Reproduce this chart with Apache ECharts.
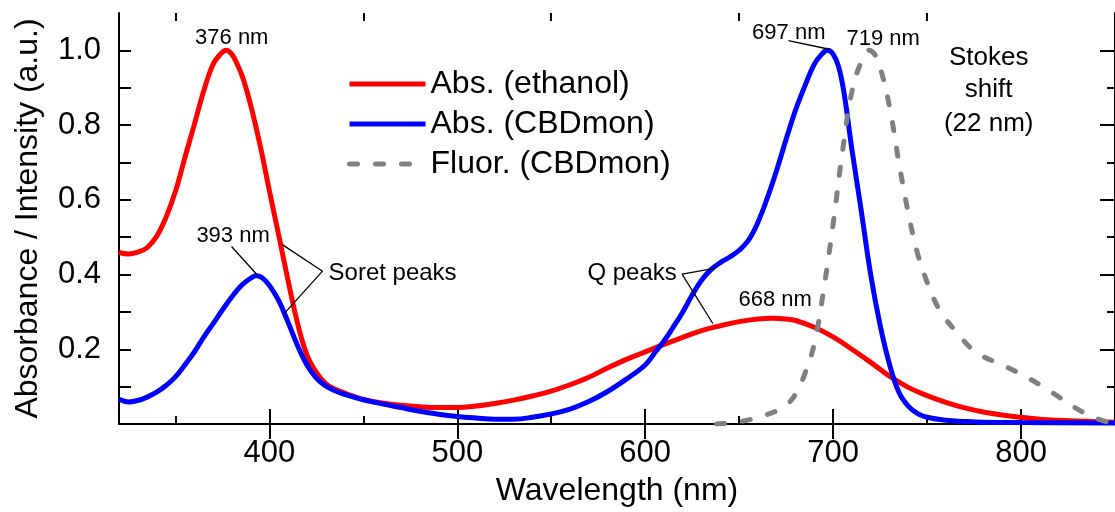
<!DOCTYPE html>
<html>
<head>
<meta charset="utf-8">
<script src="https://cdn.jsdelivr.net/npm/echarts@6/dist/echarts.min.js"></script>
<style>
html,body{margin:0;padding:0;background:#fff;}
#chart{width:1115px;height:512px;}
</style>
</head>
<body>
<div id="chart"></div>
<script>
// ---- data ----
const wlEthanol = [320,325,330,335,340,345,350,355,360,365,370,374,377,380,383,386,390,395,400,405,410,415,420,425,430,435,440,445,450,460,470,480,490,500,510,520,530,540,550,560,570,580,590,600,610,620,630,640,650,660,668,675,680,690,700,710,720,730,740,750,760,770,780,790,800,810,820,830,840,850];
const absEthanol = [0.459,0.455,0.46,0.472,0.502,0.553,0.622,0.712,0.80,0.89,0.962,0.99,1.0,0.99,0.962,0.925,0.855,0.748,0.625,0.505,0.383,0.27,0.185,0.138,0.108,0.093,0.083,0.074,0.066,0.056,0.050,0.046,0.044,0.044,0.048,0.055,0.064,0.075,0.088,0.105,0.125,0.150,0.173,0.193,0.213,0.232,0.250,0.263,0.274,0.281,0.283,0.281,0.277,0.259,0.233,0.20,0.165,0.128,0.098,0.076,0.058,0.043,0.032,0.024,0.018,0.013,0.010,0.008,0.006,0.005];

const wlCBD = [320,325,330,335,340,345,350,355,360,365,370,375,380,385,390,393,396,400,405,410,415,420,425,430,435,440,450,460,470,480,490,500,510,520,530,540,550,560,570,580,590,600,605,610,615,620,625,630,635,640,645,650,655,660,665,670,675,680,685,690,694,697,700,703,706,710,715,720,725,730,735,740,745,750,760,770,780,800,850];
const absCBD = [0.066,0.059,0.063,0.072,0.085,0.103,0.126,0.158,0.192,0.232,0.268,0.305,0.34,0.37,0.39,0.397,0.392,0.371,0.33,0.272,0.21,0.158,0.123,0.102,0.089,0.079,0.065,0.054,0.044,0.034,0.026,0.020,0.016,0.013,0.013,0.018,0.027,0.040,0.060,0.087,0.12,0.158,0.19,0.222,0.26,0.30,0.345,0.385,0.413,0.432,0.447,0.465,0.492,0.54,0.605,0.68,0.762,0.84,0.905,0.963,0.99,1.0,0.99,0.955,0.88,0.735,0.57,0.40,0.265,0.16,0.085,0.048,0.028,0.018,0.010,0.007,0.005,0.004,0.003];

const wlFluor = [638,650,660,670,675,680,685,690,695,700,705,710,715,719,722,725,730,735,740,745,750,755,760,765,770,775,780,790,800,810,820,830,840,850];
const fluorCBD = [0.0,0.006,0.018,0.035,0.05,0.08,0.135,0.215,0.36,0.535,0.73,0.89,0.97,1.0,0.99,0.955,0.85,0.70,0.565,0.455,0.38,0.32,0.28,0.25,0.22,0.196,0.18,0.158,0.133,0.105,0.073,0.04,0.015,0.0];

const seriesNames = ['Abs. (ethanol)', 'Abs. (CBDmon)', 'Fluor. (CBDmon)'];
const xMajorTicks = [400, 500, 600, 700, 800];
const xMinorTicks = [350, 450, 550, 650, 750];
const yLabelTicks = [0.2, 0.4, 0.6, 0.8, 1.0];
const yMinorTicks = [0.1, 0.3, 0.5, 0.7, 0.9];
const yAllTicks = [0.1, 0.2, 0.3, 0.4, 0.5, 0.6, 0.7, 0.8, 0.9, 1.0];

// annotation texts anchored in data coordinates
const annotations = [
  { text: '376 nm', x: 380.0, y: 1.034, size: 22, align: 'center' },
  { text: '393 nm', x: 380.7, y: 0.504, size: 22, align: 'center' },
  { text: 'Soret peaks', x: 431.5, y: 0.403, size: 24, align: 'left' },
  { text: 'Q peaks', x: 616.8, y: 0.403, size: 24, align: 'right' },
  { text: '668 nm', x: 669.2, y: 0.332, size: 22, align: 'center' },
  { text: '697 nm', x: 676.4, y: 1.047, size: 22, align: 'center' },
  { text: '719 nm', x: 726.6, y: 1.031, size: 22, align: 'center' },
  { text: 'Stokes', x: 782.8, y: 0.981, size: 26, align: 'center' },
  { text: 'shift', x: 782.8, y: 0.894, size: 26, align: 'center' },
  { text: '(22 nm)', x: 782.8, y: 0.804, size: 26, align: 'center' }
];
// leader lines: [x1, y1, x2, y2] in data coordinates
const leaders = [
  [379.9, 0.475, 393.7, 0.398],
  [428.3, 0.409, 406.9, 0.48],
  [428.3, 0.409, 408, 0.296],
  [619.6, 0.401, 637.6, 0.417],
  [619.6, 0.401, 636, 0.269],
  [676.2, 1.026, 698, 1.003]
];

const FONT = 'Liberation Sans, Arial, Helvetica, sans-serif';
const zip = (xs, ys) => xs.map((x, i) => [x, ys[i]]);

const chart = echarts.init(document.getElementById('chart'), null, { renderer: 'canvas' });

const xBase = { type: 'value', min: 320, max: 850, splitLine: { show: false } };
const yBase = { type: 'value', min: 0, max: 1.1, splitLine: { show: false } };
const blk = { color: '#000', width: 2 };

const option = {
  animation: false,
  backgroundColor: '#fff',
  textStyle: { fontFamily: FONT, color: '#000' },
  grid: { left: 119, right: -5.5, top: 13, bottom: 82, containLabel: false },
  legend: {
    orient: 'vertical', left: 342, top: 63, itemWidth: 76, itemHeight: 14, itemGap: 8,
    itemStyle: { opacity: 0 },
    lineStyle: { width: 5 },
    textStyle: { fontSize: 32, color: '#000', fontFamily: FONT, lineHeight: 32 },
    data: seriesNames
  },
  xAxis: [
    Object.assign({}, xBase, {
      position: 'bottom',
      axisLine: { show: true, lineStyle: blk },
      axisTick: { show: true, inside: true, length: 15, lineStyle: blk, customValues: xMajorTicks },
      axisLabel: { show: true, customValues: xMajorTicks, fontSize: 31, color: '#000', fontFamily: FONT, margin: 14 },
      name: 'Wavelength (nm)', nameLocation: 'middle', nameGap: 51,
      nameTextStyle: { fontSize: 32, color: '#000', fontFamily: FONT }
    }),
    Object.assign({}, xBase, {
      position: 'bottom',
      axisLine: { show: false },
      axisTick: { show: true, inside: true, length: 8, lineStyle: blk, customValues: xMinorTicks },
      axisLabel: { show: false }
    }),
    Object.assign({}, xBase, {
      position: 'top',
      axisLine: { show: true, lineStyle: blk },
      axisTick: { show: true, inside: true, length: 15, lineStyle: blk, customValues: xMajorTicks },
      axisLabel: { show: false }
    }),
    Object.assign({}, xBase, {
      position: 'top',
      axisLine: { show: false },
      axisTick: { show: true, inside: true, length: 8, lineStyle: blk, customValues: xMinorTicks },
      axisLabel: { show: false }
    })
  ],
  yAxis: [
    Object.assign({}, yBase, {
      position: 'left',
      axisLine: { show: true, lineStyle: blk },
      axisTick: { show: true, inside: true, length: 12, lineStyle: blk, customValues: yAllTicks },
      axisLabel: { show: true, customValues: yLabelTicks, fontSize: 31, color: '#000', fontFamily: FONT, margin: 18,
        formatter: v => v.toFixed(1) },
      name: 'Absorbance / Intensity (a.u.)', nameLocation: 'middle', nameGap: 75,
      nameTextStyle: { fontSize: 32, color: '#000', fontFamily: FONT }
    }),
    Object.assign({}, yBase, {
      position: 'right',
      axisLine: { show: true, lineStyle: blk },
      axisTick: { show: true, inside: true, length: 15, lineStyle: blk, customValues: yLabelTicks },
      axisLabel: { show: false }
    }),
    Object.assign({}, yBase, {
      position: 'right',
      axisLine: { show: false },
      axisTick: { show: true, inside: true, length: 8, lineStyle: blk, customValues: yMinorTicks },
      axisLabel: { show: false }
    })
  ],
  series: [
    {
      name: seriesNames[0], type: 'line', data: zip(wlEthanol, absEthanol), xAxisIndex: 0, yAxisIndex: 0,
      symbol: 'none', smooth: 0.4, color: '#ff0000',
      lineStyle: { color: '#ff0000', width: 5 }
    },
    {
      name: seriesNames[1], type: 'line', data: zip(wlCBD, absCBD), xAxisIndex: 0, yAxisIndex: 0,
      symbol: 'none', smooth: 0.4, color: '#0000ff',
      lineStyle: { color: '#0000ff', width: 5 }
    },
    {
      name: seriesNames[2], type: 'line', data: zip(wlFluor, fluorCBD), xAxisIndex: 0, yAxisIndex: 0,
      symbol: 'none', smooth: 0.4, color: '#808080',
      lineStyle: { color: '#808080', width: 5, type: [8, 18], cap: 'round' }
    }
  ]
};

chart.setOption(option);

function toPx(x, y) {
  return chart.convertToPixel({ xAxisIndex: 0, yAxisIndex: 0 }, [x, y]);
}
const graphics = [];
leaders.forEach(l => {
  const p1 = toPx(l[0], l[1]);
  const p2 = toPx(l[2], l[3]);
  graphics.push({
    type: 'line', silent: true, z: 50,
    shape: { x1: p1[0], y1: p1[1], x2: p2[0], y2: p2[1] },
    style: { stroke: '#000', lineWidth: 1.3 }
  });
});
annotations.forEach(a => {
  const p = toPx(a.x, a.y);
  graphics.push({
    type: 'text', silent: true, z: 50, x: p[0], y: p[1],
    style: { text: a.text, fill: '#000', font: a.size + 'px ' + FONT, textAlign: a.align, textVerticalAlign: 'middle' }
  });
});
chart.setOption({ graphic: graphics });
</script>
</body>
</html>
